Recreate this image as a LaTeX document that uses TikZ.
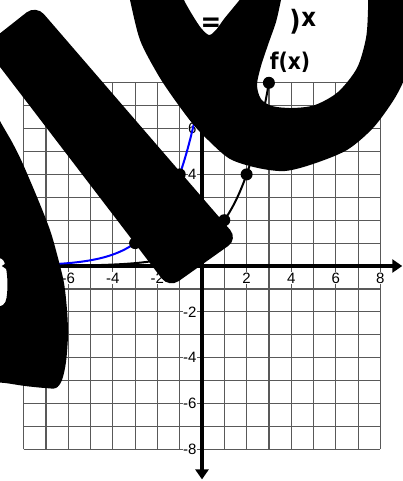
\documentclass[tikz,border=0pt]{standalone}
\usepackage{fontspec}
\setmainfont{Liberation Sans}
\newfontfamily\titlefont[FakeStretch=0.88]{DejaVu Sans}
\usetikzlibrary{arrows.meta}
\tikzset{
  gridline/.style={draw=black!65, line width=0.6pt},
  axisline/.style={line width=1.7pt,
    {Triangle[width=6.5pt,length=5pt]}-{Triangle[width=6.5pt,length=5pt]}},
  lab/.style={font=\fontsize{7.5}{8}\selectfont, fill=white, inner sep=0.3pt},
  xlab/.style={lab, anchor=center},
  ylab/.style={lab, anchor=east},
  curveline/.style={line width=1pt},
  dotnode/.style={circle, fill=black, inner sep=0pt, minimum size=6pt},
  ttl/.style={inner sep=0pt, font=\titlefont\bfseries},
  blot/.style={fill=black, even odd rule}
}
\begin{document}
\begin{tikzpicture}[x=0.5pt,y=-0.5pt]
\useasboundingbox (0,0) rectangle (402,481);
\begin{scope}[shift={(101pt,-133pt)}, x=11.15pt, y=11.45pt]
  \draw[gridline, step=1] (-8,-8) grid (8,8);
  \coordinate (xleft) at (-8.98,0);
  \coordinate (xright) at (8.98,0);
  \coordinate (ybot) at (0,-9.32);
  \coordinate (ytop) at (0,9.32);
  \draw[axisline] (xleft) -- (xright);
  \draw[axisline] (ybot) -- (ytop);
  \foreach \v in {-8,-6,-4,-2,2,4,6,8} {
    \node[xlab] (xl\v) at (\v,-0.52) {\v};
    \node[ylab] (yl\v) at (-0.2,\v) {\v};
  }
  \draw[curveline, blue] plot[domain=-8:0, samples=150, smooth] (\x,{pow(2,\x+3)});
  \draw[curveline] plot[domain=-8:3, samples=150, smooth] (\x,{pow(2,\x)});
  \node[dotnode] (g1) at (-3,1) {};
  \node[dotnode] (g2) at (-1,4) {};
  \node[dotnode] (f1) at (1,2) {};
  \node[dotnode] (f2) at (2,4) {};
  \node[dotnode] (f3) at (3,8) {};
\end{scope}
% title texts
\node[ttl, font=\titlefont\bfseries\fontsize{14}{15}\selectfont, anchor=center] (eq) at (211,25) {=};
\node[ttl, font=\titlefont\bfseries\fontsize{14}{15}\selectfont, anchor=base east] (base) at (268,31) {(2};
\node[ttl, font=\titlefont\bfseries\fontsize{14}{15}\selectfont, anchor=base west] (paren) at (289,31) {)};
\node[ttl, font=\titlefont\bfseries\fontsize{13}{14}\selectfont, anchor=base west] (expo) at (301,27) {x};
\node[ttl, font=\titlefont\bfseries\fontsize{11.5}{12}\selectfont, anchor=base] (fx) at (290,69) {f(x)};
% black blots
\fill[black, rounded corners=6pt] (36,5) -- (238,239) -- (169,288) -- (-16,46) -- cycle;
\fill[blot] plot[smooth] coordinates {(-10,100) (0,121) (12,142) (22,162) (37,197) (50,230) (58,258) (64,283) (67,310) (68,335) (66,362) (62,380) (56,388) (45,388) (25,386) (5,383) (-10,382)} -- cycle
  plot[smooth] coordinates {(-10,257) (2,259) (6,268) (7.5,283) (6.5,298) (3,305) (-10,309)} -- cycle;
\fill[blot] plot[smooth] coordinates {(128,-10) (130,0) (140,40) (157,73) (172,96) (192,123) (208,140) (230,159) (258,168) (285,171) (313,164) (347,150) (373,128) (393,101) (404,80) (412,55)} -- (412,-10) -- cycle
  plot[smooth] coordinates {(182,-10) (184,0) (193,16) (201,28) (209,35) (216,30) (224,19) (233,8) (241,-2) (245,-10)} -- cycle
  plot[smooth] coordinates {(283,-10) (281,0) (276,22) (269,42) (261,66) (257,85) (261,99) (272,106) (292,108) (315,105) (338,92) (357,68) (366,38) (368,10) (368,-10)} -- cycle;
\end{tikzpicture}
\end{document}
